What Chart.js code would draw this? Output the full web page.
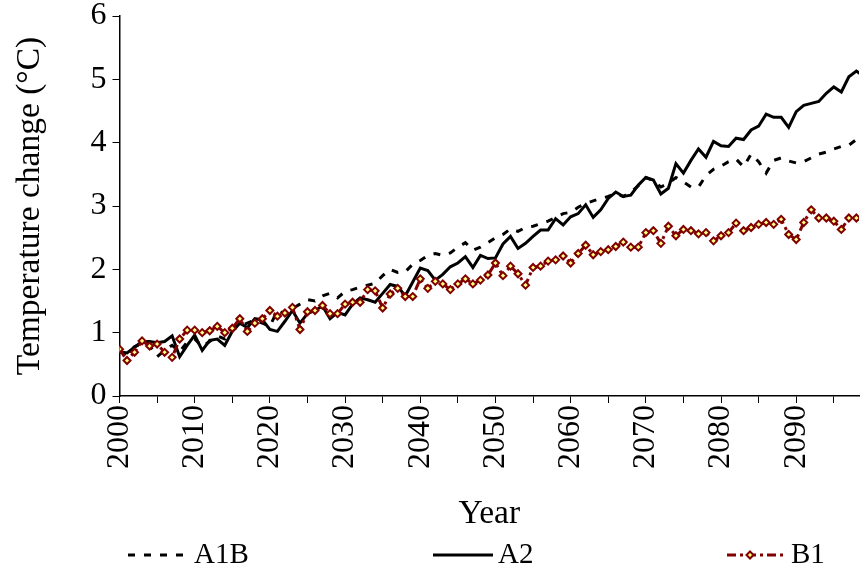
<!DOCTYPE html>
<html>
<head>
<meta charset="utf-8">
<script src="https://cdn.jsdelivr.net/npm/chart.js@4.4.1/dist/chart.umd.min.js"></script>
<style>
  html, body { margin: 0; padding: 0; background: #fff; }
  #grafico { display: block; }
</style>
</head>
<body>
<canvas id="grafico" width="865" height="574"></canvas>
<script>
// años del eje x (2000-2099)
const years = Array.from({ length: 100 }, (_, i) => 2000 + i);
const seriesNames = ['A1B', 'A2', 'B1'];
const yTicks = [0, 1, 2, 3, 4, 5, 6];

// valores, un valor por año
const a1b = [
  0.70, 0.66, 0.78, 0.82, 0.80, 0.62, 0.72, 0.80, 0.70, 0.85,
  0.90, 0.78, 0.86, 0.95, 0.90, 1.05, 1.10, 1.15, 1.20, 1.15,
  1.10, 1.35, 1.30, 1.38, 1.45, 1.52, 1.50, 1.58, 1.62, 1.55,
  1.65, 1.68, 1.72, 1.75, 1.78, 1.90, 2.00, 1.95, 1.96, 2.08,
  2.14, 2.22, 2.25, 2.22, 2.26, 2.35, 2.42, 2.30, 2.35, 2.42,
  2.50, 2.55, 2.64, 2.60, 2.66, 2.68, 2.72, 2.76, 2.82, 2.88,
  2.90, 2.98, 3.04, 3.08, 3.12, 3.15, 3.20, 3.15, 3.22, 3.32,
  3.45, 3.40, 3.30, 3.36, 3.45, 3.38, 3.30, 3.30, 3.48, 3.58,
  3.63, 3.70, 3.74, 3.62, 3.82, 3.70, 3.52, 3.72, 3.76, 3.71,
  3.68, 3.70, 3.76, 3.82, 3.85, 3.90, 3.94, 3.96, 4.05, 4.10
];
const a2 = [
  0.70, 0.68, 0.77, 0.86, 0.86, 0.84, 0.86, 0.95, 0.62, 0.80,
  0.96, 0.72, 0.88, 0.90, 0.80, 1.02, 1.15, 1.08, 1.22, 1.20,
  1.05, 1.02, 1.18, 1.35, 1.15, 1.30, 1.35, 1.42, 1.22, 1.32,
  1.28, 1.45, 1.55, 1.52, 1.48, 1.62, 1.76, 1.73, 1.58, 1.80,
  2.02, 1.98, 1.83, 1.92, 2.04, 2.10, 2.20, 2.03, 2.22, 2.17,
  2.18, 2.40, 2.52, 2.33, 2.41, 2.52, 2.62, 2.62, 2.80, 2.70,
  2.83, 2.88, 3.02, 2.82, 2.94, 3.12, 3.22, 3.15, 3.17, 3.33,
  3.45, 3.41, 3.19, 3.28, 3.67, 3.52, 3.72, 3.90, 3.77, 4.02,
  3.95, 3.94, 4.07, 4.05, 4.20, 4.26, 4.45, 4.40, 4.40, 4.24,
  4.49, 4.59, 4.62, 4.65, 4.78, 4.88, 4.80, 5.04, 5.13, 5.05
];
const b1 = [
  0.74, 0.56, 0.69, 0.87, 0.79, 0.82, 0.69, 0.61, 0.90, 1.04,
  1.04, 1.00, 1.03, 1.10, 1.00, 1.07, 1.22, 1.02, 1.15, 1.22,
  1.35, 1.26, 1.31, 1.40, 1.05, 1.33, 1.35, 1.43, 1.30, 1.30,
  1.45, 1.48, 1.48, 1.68, 1.66, 1.39, 1.61, 1.70, 1.57, 1.57,
  1.85, 1.70, 1.81, 1.77, 1.68, 1.77, 1.85, 1.77, 1.83, 1.91,
  2.10, 1.90, 2.05, 1.93, 1.75, 2.03, 2.05, 2.13, 2.15, 2.21,
  2.10, 2.25, 2.38, 2.23, 2.28, 2.31, 2.36, 2.43, 2.35, 2.35,
  2.58, 2.61, 2.41, 2.68, 2.53, 2.63, 2.61, 2.56, 2.58, 2.45,
  2.53, 2.58, 2.73, 2.61, 2.66, 2.71, 2.74, 2.71, 2.79, 2.55,
  2.47, 2.74, 2.94, 2.81, 2.81, 2.76, 2.63, 2.81, 2.81, 2.75
];

const serif = "'Liberation Serif', 'Times New Roman', serif";
const toPoints = (vals) => vals.map((v, i) => ({ x: years[i], y: v }));

// leyenda dibujada a mano abajo del gráfico (línea de muestra + texto)
const leyendaAbajo = {
  id: 'leyendaAbajo',
  afterDraw(chart) {
    const ctx = chart.ctx;
    const y = 555;
    const items = [
      { ds: 0, x0: 128, x1: 188, tx: 194 },
      { ds: 1, x0: 433, x1: 493, tx: 498 },
      { ds: 2, x0: 727, x1: 785, tx: 791 }
    ];
    ctx.save();
    items.forEach(it => {
      const d = chart.data.datasets[it.ds];
      ctx.strokeStyle = d.borderColor;
      ctx.lineWidth = d.borderWidth;
      ctx.setLineDash(d.borderDash || []);
      ctx.beginPath();
      ctx.moveTo(it.x0, y);
      ctx.lineTo(it.x1, y);
      ctx.stroke();
      ctx.setLineDash([]);
      if (d.pointRadius > 0) {
        const cx = (it.x0 + it.x1) / 2 - 6;
        const r = d.pointRadius;
        ctx.fillStyle = d.pointBackgroundColor;
        ctx.strokeStyle = d.pointBorderColor;
        ctx.lineWidth = d.pointBorderWidth;
        ctx.beginPath();
        ctx.moveTo(cx, y - r);
        ctx.lineTo(cx + r, y);
        ctx.lineTo(cx, y + r);
        ctx.lineTo(cx - r, y);
        ctx.closePath();
        ctx.fill();
        ctx.stroke();
      }
      ctx.fillStyle = '#000';
      ctx.font = '29px ' + serif;
      ctx.textBaseline = 'middle';
      ctx.textAlign = 'left';
      ctx.fillText(d.label, it.tx, y);
    });
    ctx.restore();
  }
};

Chart.defaults.color = '#000';
Chart.defaults.font.family = serif;

new Chart(document.getElementById('grafico'), {
  type: 'line',
  data: {
    datasets: [
      {
        label: seriesNames[0],
        data: toPoints(a1b),
        borderColor: '#000',
        borderWidth: 3,
        borderDash: [7, 9],
        pointRadius: 0,
        tension: 0,
        order: 3
      },
      {
        label: seriesNames[1],
        data: toPoints(a2),
        borderColor: '#000',
        borderWidth: 3,
        pointRadius: 0,
        tension: 0,
        order: 2
      },
      {
        label: seriesNames[2],
        data: toPoints(b1),
        borderColor: '#800000',
        borderWidth: 3,
        borderDash: [9, 4, 3, 4],
        pointStyle: 'rectRot',
        pointRadius: 3.5,
        pointBackgroundColor: '#ffff80',
        pointBorderColor: '#800000',
        pointBorderWidth: 2,
        tension: 0,
        order: 1
      }
    ]
  },
  options: {
    responsive: false,
    animation: false,
    layout: { padding: { top: 16, right: 0, bottom: 0, left: 0 } },
    plugins: {
      legend: { display: false },
      tooltip: { enabled: false }
    },
    scales: {
      x: {
        type: 'linear',
        min: 2000,
        max: 2098.35,
        afterFit: (s) => { s.height = 178; s.paddingLeft = 0; s.paddingRight = 0; },
        afterBuildTicks: (s) => {
          s.ticks = years.filter(v => v % 5 === 0 && v <= 2095).map(v => ({ value: v }));
        },
        ticks: {
          autoSkip: false,
          minRotation: 90,
          maxRotation: 90,
          padding: 2,
          font: { size: 32, lineHeight: 1 },
          callback: (v) => (v % 10 === 0 ? String(v) : '')
        },
        grid: { drawOnChartArea: false, drawTicks: true, tickLength: 7, color: '#000', lineWidth: 1 },
        border: { color: '#000', width: 1.5 },
        title: {
          display: true,
          text: 'Year',
          font: { size: 33.5 },
          padding: { top: 0, bottom: 40 }
        }
      },
      y: {
        min: 0,
        max: 6,
        afterFit: (s) => { s.width = 119.5; s.paddingTop = 0; s.paddingBottom = 0; },
        afterBuildTicks: (s) => { s.ticks = yTicks.map(v => ({ value: v })); },
        ticks: {
          padding: 6,
          font: { size: 32, lineHeight: 1 }
        },
        grid: { drawOnChartArea: false, drawTicks: true, tickLength: 7, color: '#000', lineWidth: 1 },
        border: { color: '#000', width: 1.5 },
        title: {
          display: true,
          text: 'Temperature change (°C)',
          font: { size: 33.5 },
          padding: { top: 10, bottom: 0 }
        }
      }
    }
  },
  plugins: [leyendaAbajo]
});
</script>
</body>
</html>
